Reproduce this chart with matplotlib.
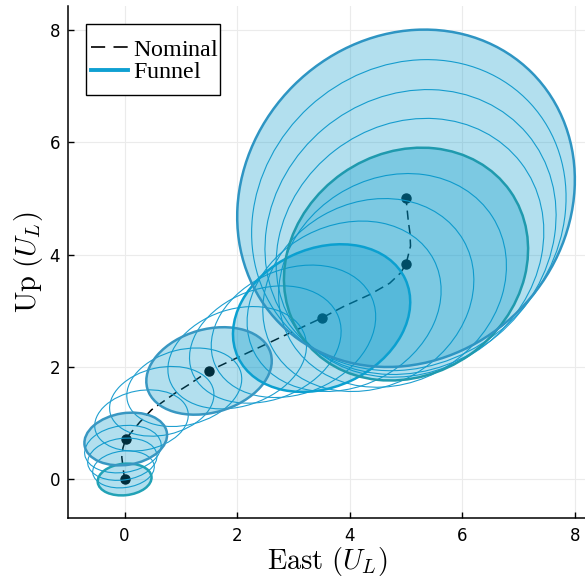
import numpy as np
import matplotlib.pyplot as plt
from matplotlib.patches import Ellipse, Rectangle
from matplotlib.lines import Line2D
from matplotlib.font_manager import FontProperties

plt.rcParams['mathtext.fontset'] = 'cm'
plt.rcParams['mathtext.rm'] = 'Liberation Serif'
plt.rcParams['font.family'] = 'DejaVu Sans'

# nominal trajectory (East, Up) in U_L
nominal_e = [0.0, -0.03, -0.05, -0.03, 0.02, 0.27, 0.48, 0.89, 1.13, 1.5,
             2.5, 3.5, 3.88, 4.36, 4.71, 4.9, 5.0, 5.08, 5.07, 5.04, 5.0]
nominal_u = [0.0, 0.23, 0.40, 0.56, 0.72, 1.02, 1.24, 1.53, 1.68, 1.93,
             2.40, 2.87, 3.07, 3.29, 3.49, 3.67, 3.83, 4.15, 4.38, 4.60, 5.0]

# knot points of the funnel: center, semi-axes, rotation (deg)
knot_e = [0.0, 0.02, 1.5, 3.5, 5.0, 5.0]
knot_u = [0.0, 0.72, 1.93, 2.87, 3.83, 5.0]
knot_a = [0.48, 0.74, 1.14, 1.64, 2.26, 3.16]
knot_b = [0.28, 0.46, 0.74, 1.23, 1.97, 2.83]
knot_ang = [6, 9, 16, 25, 35, 45]
knot_edge = ['#22a2b6', '#3897c2', '#3897c2', '#0ba0d0', '#1f9aae', '#2e95c3']

# funnel sections between knots
mid_e = [-0.02, -0.04, -0.03,
         0.30, 0.66, 1.06,
         2.0, 2.5, 3.0,
         3.9, 4.33, 4.76,
         5.07, 5.08, 5.05]
mid_u = [0.18, 0.36, 0.54,
         1.05, 1.39, 1.64,
         2.165, 2.40, 2.635,
         3.08, 3.28, 3.54,
         4.12, 4.40, 4.70]
mid_a = [0.55, 0.62, 0.685,
         0.84, 0.94, 1.04,
         1.265, 1.39, 1.515,
         1.795, 1.95, 2.105,
         2.485, 2.71, 2.935]
mid_b = [0.325, 0.37, 0.415,
         0.53, 0.60, 0.67,
         0.8625, 0.985, 1.1075,
         1.43, 1.63, 1.81,
         2.185, 2.40, 2.615]
mid_ang = [7, 8, 8.5,
           10.8, 12.5, 14.3,
           18.25, 20.5, 22.75,
           27.5, 30, 32.5,
           37.5, 40, 42.5]

azul = '#0097c9'

fig = plt.figure(figsize=(5.85, 5.78), dpi=100)
ax = fig.add_axes([0.1168, 0.1033, 0.8832, 0.8864])

# nominal path and knots (below the funnel)
ax.plot(nominal_e, nominal_u, color='black', lw=1.1, dashes=(6, 3.5), zorder=2)
ax.plot(knot_e, knot_u, 'o', color='black', ms=6.5, zorder=2)

# thin intermediate sections
for e, u, a, b, ang in zip(mid_e, mid_u, mid_a, mid_b, mid_ang):
    ax.add_patch(Ellipse((e, u), 2*a, 2*b, angle=ang, fill=False,
                         edgecolor='#1f9fd0', lw=0.8, zorder=3))

# filled knot ellipses
for e, u, a, b, ang, col in zip(knot_e, knot_u, knot_a, knot_b, knot_ang, knot_edge):
    ax.add_patch(Ellipse((e, u), 2*a, 2*b, angle=ang, facecolor=azul,
                         alpha=0.3, edgecolor='none', zorder=4))
    ax.add_patch(Ellipse((e, u), 2*a, 2*b, angle=ang, fill=False,
                         edgecolor=col, lw=1.8, zorder=5))

ax.set_xlim(-1.0, 8.18)
ax.set_ylim(-0.69, 8.42)
ax.set_xticks([0, 2, 4, 6, 8])
ax.set_yticks([0, 2, 4, 6, 8])
ax.grid(True, color='#ebebeb', lw=0.8, zorder=0)
ax.set_axisbelow(True)
for s in ['top', 'right']:
    ax.spines[s].set_visible(False)
for s in ['left', 'bottom']:
    ax.spines[s].set_linewidth(1.1)
ax.tick_params(direction='in', length=4, width=1, labelsize=12, pad=6)

ax.set_xlabel(r'$\mathrm{East}\ (U_L)$', fontsize=20.5, labelpad=0)
ax.set_ylabel(r'$\mathrm{Up}\ (U_L)$', fontsize=20.5, labelpad=3)

# legend: entries without frame, box drawn separately
handles = [Line2D([], [], color='black', lw=1.2, dashes=(8.5, 5)),
           Line2D([], [], color='#0fa0d2', lw=2.8)]
leg_font = FontProperties(size=17.3, math_fontfamily='custom')
leg = ax.legend(handles, [r'$\mathrm{Nominal}$', r'$\mathrm{Funnel}$'],
                loc='upper left', bbox_to_anchor=(91/585, 1 - 36.5/578),
                bbox_transform=fig.transFigure, borderaxespad=0, borderpad=0,
                prop=leg_font, frameon=False,
                handlelength=1.54, handletextpad=0.2, labelspacing=-0.06)
leg.set_zorder(6)
ax.add_patch(Rectangle((86/585, 1 - 95/578), 134/585, 71/578,
                       transform=fig.transFigure, facecolor='white',
                       edgecolor='black', lw=1.0, zorder=5.5, clip_on=False))

fig.savefig('out.png', dpi=100)
